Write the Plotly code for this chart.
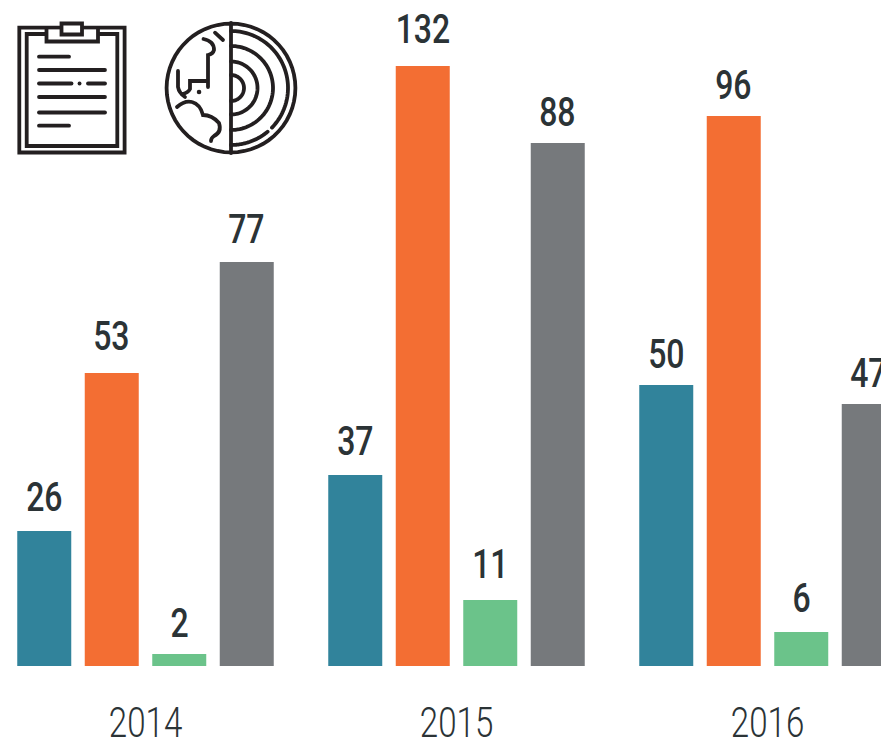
import math, re
import plotly.graph_objects as go

years = [2014, 2015, 2016]
series_names = ["A", "B", "C", "D"]
series_colors = ["#31839b", "#f36e33", "#6bc38a", "#76797c"]
# printed labels
label_a = [26, 37, 50]
label_b = [53, 132, 96]
label_c = [2, 11, 6]
label_d = [77, 88, 47]
# bar heights as drawn (the picture's bars are not proportional to their labels)
height_a = [135, 191, 281]
height_b = [293, 600, 550]
height_c = [12, 66, 34]
height_d = [404, 523, 262]
labels = [label_a, label_b, label_c, label_d]
heights = [height_a, height_b, height_c, height_d]
# space between a label's baseline and its bar top, per series
label_gaps = [[20, 20, 17], [23, 23, 17], [17, 22, 20], [19, 17, 17]]

W, H = 881, 739
BASE_Y = 666
GROUP_PX = 311
SLOT_PX = 67.5
BAR_PX = 54
FIRST_CENTER = 145.5
INK = "#2b3336"
LABEL_SIZE = 41
DESCENT = 11.5

fig = go.Figure()
for name, color, h in zip(series_names, series_colors, heights):
    fig.add_trace(go.Bar(x=years, y=h, name=name, marker=dict(color=color, line=dict(width=0))))

slot = SLOT_PX / GROUP_PX
annotations = []
for i, (lab, h, gaps) in enumerate(zip(labels, heights, label_gaps)):
    for yr, l, v, g in zip(years, lab, h, gaps):
        annotations.append(dict(x=yr + (i - 1.5) * slot, y=v, xref="x", yref="y", text=str(l),
                                showarrow=False, yanchor="bottom", yshift=g - DESCENT,
                                font=dict(family="Roboto", size=LABEL_SIZE, color=INK, weight=500)))

# icon helpers: pixel coordinates of the page -> paper fractions (plot area runs to y=BASE_Y)
def sx(x): return x / W
def sy(y): return 1 - y / BASE_Y
def conv(path):
    toks = re.findall(r"[MLQZ]|-?\d+\.?\d*", path)
    out, is_x = [], True
    for t in toks:
        if t in "MLQZ":
            out.append(t); is_x = True
        else:
            out.append(f"{sx(float(t)) if is_x else sy(float(t)):.5f}")
            is_x = not is_x
    s = ""
    for t in out:
        s += t if t in "MLQZ" else (t + " ")
    return s.strip()

shapes = []
def stroke(path, w=3.8, fill="rgba(0,0,0,0)"):
    shapes.append(dict(type="path", xref="paper", yref="paper", path=conv(path),
                       line=dict(color="#231f20", width=w), fillcolor=fill, layer="above"))
def arc(cx, cy, r, a0, a1):
    n = 60
    pts = [(cx + r * math.cos(math.radians(a0 + (a1 - a0) * k / n)),
            cy + r * math.sin(math.radians(a0 + (a1 - a0) * k / n))) for k in range(n + 1)]
    return "M" + " L".join(f"{x:.2f} {y:.2f}" for x, y in pts)

# clipboard
stroke("M19.3 27.7 L124.6 27.7 L124.6 152.5 L19.3 152.5 Z")
stroke("M26.7 34 L117.3 34 L117.3 146 L26.7 146 Z")
shapes.append(dict(type="rect", xref="paper", yref="paper", x0=sx(46), x1=sx(98.5), y0=sy(29.7), y1=sy(42),
                   line=dict(width=0), fillcolor="#ffffff", layer="above"))
stroke("M46.5 29 L46.5 41.5 L98 41.5 L98 29")
stroke("M61.5 23.5 L82 23.5 L82 34.5 L61.5 34.5 Z", fill="#ffffff")
stroke("M39 56.7 L69 56.7")
stroke("M39 70 L105 70")
stroke("M39 83.5 L71.5 83.5")
stroke("M79.5 83.5 L79.6 83.5")
stroke("M88 83.5 L105 83.5")
stroke("M39 97 L105 97")
stroke("M39 112.5 L105 112.5")
stroke("M39 125.7 L69 125.7")
# globe
stroke(arc(231, 88, 64.4, 0, 360))
stroke("M231 23 L231 153")
stroke(arc(231, 88, 57, -90, 44))
stroke(arc(231, 88, 57, 50, 90))
stroke(arc(231, 88, 42, -90, 90))
stroke(arc(231, 88, 26.5, -90, 90))
stroke(arc(231, 88, 13, -90, 90))
stroke("M203.5 39 Q214 41 214 50 Q213 54 208 55 L208 87")
stroke("M207 81 L190 81 L190 89 Q188 93 182 94")
stroke("M178 71 L178 87 Q179 93 185 97")
stroke("M177 107 Q185 100 192 102 Q200 104 203 115 Q212 115 219 123 Q222 132 214 136 Q211 138 211 141")
stroke("M199 92 L199.1 92", w=4.5)
stroke("M215 32.7 L223 40")

x0 = years[0] - FIRST_CENTER / GROUP_PX
fig.update_layout(
    width=W, height=H, margin=dict(l=0, r=0, t=0, b=H - BASE_Y), autosize=False,
    paper_bgcolor="#ffffff", plot_bgcolor="#ffffff", showlegend=False,
    barmode="group", bargap=(GROUP_PX - 4 * SLOT_PX) / GROUP_PX, bargroupgap=1 - BAR_PX / SLOT_PX,
    annotations=annotations, shapes=shapes,
    xaxis=dict(range=[x0, x0 + W / GROUP_PX], tickmode="array", tickvals=years, ticktext=[str(y) for y in years],
               showgrid=False, zeroline=False, showline=False, ticks="", ticklabelstandoff=27,
               automargin=False,
               tickfont=dict(family="Roboto", size=43, color="#2b3336", weight=300)),
    yaxis=dict(range=[0, BASE_Y], showgrid=False, zeroline=False, showline=False,
               showticklabels=False, ticks=""),
)

post = """
document.body.style.margin='0';
document.documentElement.style.overflow='hidden';
document.querySelectorAll('.shapelayer path').forEach(function(p){p.style.strokeLinecap='round';});
function narrow(sel, k){document.querySelectorAll(sel).forEach(function(t){
  var box=t.getBBox(), w=t.getComputedTextLength(), cx=box.x+box.width/2;
  t.setAttribute('textLength', w*k); t.setAttribute('lengthAdjust','spacingAndGlyphs');
  t.setAttribute('x', cx); t.setAttribute('text-anchor','middle');
  t.style.textAnchor='middle';
});}
narrow('.annotation-text', 0.78);
narrow('.xtick text', 0.77);
"""
fig.write_html("out.html", post_script=post, config={"displayModeBar": False, "responsive": False})
